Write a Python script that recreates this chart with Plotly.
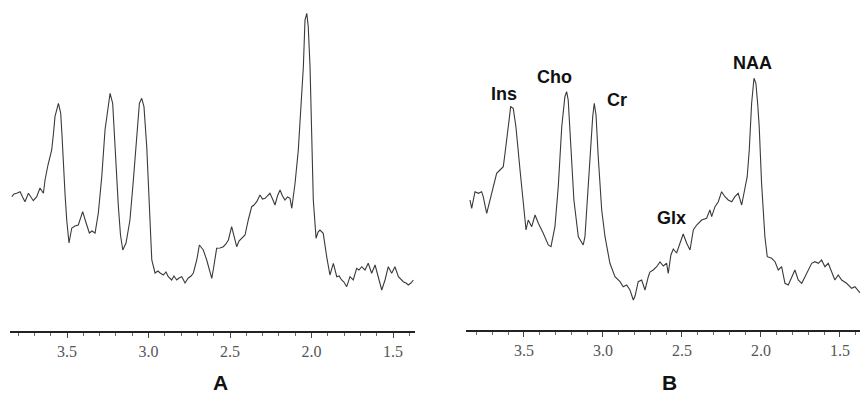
import plotly.graph_objects as go

# ---- Panel A spectrum (ppm, intensity a.u.) ----
ppm_a = [3.839, 3.825, 3.809, 3.788, 3.773, 3.758, 3.737, 3.721, 3.707, 3.686, 3.666, 3.645, 3.635,
         3.617, 3.604, 3.594, 3.583, 3.574, 3.553, 3.539, 3.531, 3.523, 3.512, 3.502, 3.488, 3.471,
         3.451, 3.431, 3.404, 3.383, 3.363, 3.347, 3.328, 3.308, 3.287, 3.267, 3.247, 3.236, 3.220,
         3.206, 3.185, 3.172, 3.158, 3.138, 3.114, 3.093, 3.072, 3.056, 3.042, 3.028, 3.011, 2.995,
         2.980, 2.960, 2.942, 2.929, 2.909, 2.893, 2.879, 2.858, 2.844, 2.827, 2.813, 2.796, 2.785,
         2.776, 2.756, 2.739, 2.725, 2.704, 2.688, 2.675, 2.664, 2.643, 2.623, 2.612, 2.601, 2.592,
         2.582, 2.561, 2.541, 2.525, 2.510, 2.490, 2.475, 2.459, 2.445, 2.428, 2.408, 2.388, 2.367,
         2.353, 2.336, 2.316, 2.301, 2.285, 2.270, 2.255, 2.239, 2.224, 2.209, 2.193, 2.178, 2.163,
         2.147, 2.132, 2.121, 2.101, 2.081, 2.071, 2.060, 2.050, 2.040, 2.029, 2.020, 2.009, 1.999,
         1.989, 1.972, 1.960, 1.948, 1.928, 1.907, 1.887, 1.866, 1.845, 1.831, 1.815, 1.801, 1.784,
         1.764, 1.744, 1.723, 1.709, 1.692, 1.672, 1.652, 1.631, 1.610, 1.590, 1.569, 1.549, 1.529,
         1.508, 1.488, 1.467, 1.451, 1.437, 1.420, 1.406, 1.390, 1.375]
int_a = [134.3, 137, 137.7, 139.3, 134, 129.3, 137.7, 133, 130.3, 134.3, 143, 137.7, 151,
         166, 174.3, 181, 198, 214.3, 227.7, 218, 196, 168, 136, 111, 88, 103,
         105, 106, 119.3, 108, 98, 100, 98, 118, 154.3, 201, 227.7, 237.7, 227.7,
         184.3, 124.3, 96, 81, 88, 111, 151, 198, 227.7, 232.7, 224.3, 184.3, 118,
         71, 58, 60, 58, 56, 59, 54.3, 51, 55, 51, 53, 54.3, 50,
         48, 53, 55, 58, 71, 86, 83, 81, 71, 58, 52.7, 63, 74.3,
         82.7, 83, 84.3, 87, 91, 104.3, 93, 84.3, 90, 92.7, 96, 111, 124.3,
         126, 129.3, 136, 132, 132.7, 135, 137.7, 132, 126, 135, 141, 135, 131,
         134, 132.7, 122.7, 147.7, 181, 206, 231, 264.3, 311, 317.7, 304.3, 264.3, 197.7,
         131, 92.7, 99, 101, 97.7, 74.3, 56, 67.7, 54.3, 55, 51, 49, 44.3,
         54.3, 51, 62.7, 61, 64.3, 61, 67.7, 57.7, 66, 54.3, 41, 51, 64.3,
         57.7, 64.3, 54.3, 52, 49.3, 48, 46, 48, 51]

# ---- Panel B spectrum ----
ppm_b = [3.842, 3.831, 3.810, 3.789, 3.768, 3.758, 3.736, 3.715, 3.694, 3.673, 3.652, 3.631, 3.620,
         3.599, 3.584, 3.568, 3.551, 3.525, 3.504, 3.487, 3.473, 3.451, 3.430, 3.409, 3.378, 3.346,
         3.329, 3.304, 3.283, 3.261, 3.241, 3.230, 3.220, 3.204, 3.184, 3.156, 3.125, 3.114, 3.099,
         3.082, 3.065, 3.055, 3.044, 3.030, 3.008, 2.987, 2.956, 2.924, 2.892, 2.872, 2.850, 2.829,
         2.808, 2.797, 2.777, 2.755, 2.734, 2.713, 2.703, 2.682, 2.660, 2.639, 2.618, 2.597, 2.587,
         2.570, 2.555, 2.534, 2.513, 2.492, 2.470, 2.449, 2.428, 2.407, 2.375, 2.344, 2.323, 2.312,
         2.291, 2.270, 2.249, 2.228, 2.207, 2.185, 2.165, 2.144, 2.122, 2.101, 2.087, 2.074, 2.059,
         2.044, 2.032, 2.021, 2.011, 1.996, 1.975, 1.960, 1.932, 1.911, 1.890, 1.869, 1.848, 1.827,
         1.806, 1.785, 1.764, 1.742, 1.721, 1.701, 1.679, 1.658, 1.637, 1.616, 1.595, 1.574, 1.553,
         1.532, 1.511, 1.489, 1.458, 1.426, 1.405, 1.384, 1.373]
int_b = [130, 121.7, 138.3, 136.7, 138.3, 133.3, 116.7, 130, 143.3, 156.7, 160, 163.3, 176.7,
         203.3, 223.3, 221.7, 203.3, 160, 123.3, 100, 110, 103.3, 115, 106.7, 96.7, 85,
         83.3, 103.3, 143.3, 203.3, 233.3, 238.3, 230, 186.7, 130, 93.3, 85, 93.3, 130,
         176.7, 213.3, 226.7, 215, 173.3, 120, 93.3, 66.7, 53.3, 48.3, 43.3, 45, 40,
         30, 34, 48.3, 50, 40, 53.3, 58, 60, 63.3, 68, 64, 66.7, 56.7,
         75, 81, 77, 86.7, 96, 86.7, 80, 100, 105, 110, 111.7, 120, 113.3,
         123.3, 128.3, 138.3, 133.3, 130, 128.3, 133.3, 136.7, 125, 140, 153.3, 180, 226.7,
         251.7, 246.7, 226.7, 203.3, 146.7, 93.3, 73.3, 71.7, 68.3, 60, 63.3, 46.7, 45,
         53.3, 60, 50, 46.7, 53.3, 60, 66.7, 68.3, 66.7, 70, 63.3, 66.7, 58.3,
         50, 55, 50, 46.7, 41.7, 43.3, 38.3, 37]

# ---- peak labels (panel B) ----
peak_names = ["Ins", "Cho", "Cr", "Glx", "NAA"]
peak_ppm = [3.627, 3.304, 2.913, 2.565, 2.053]
peak_int = [235.7, 253.3, 230, 111.7, 266.7]

tick_vals = [3.5, 3.0, 2.5, 2.0, 1.5]
tick_text = ["3.5", "3.0", "2.5", "2.0", "1.5"]
panel_names = ["A", "B"]

line_col = "#3a3a3a"
fig = go.Figure()
fig.add_trace(go.Scatter(x=ppm_a, y=int_a, mode="lines", line=dict(color=line_col, width=1.1),
                         xaxis="x", yaxis="y", showlegend=False, hoverinfo="skip"))
fig.add_trace(go.Scatter(x=ppm_b, y=int_b, mode="lines", line=dict(color=line_col, width=1.1),
                         xaxis="x2", yaxis="y2", showlegend=False, hoverinfo="skip"))

def xax(domain, rng, anchor):
    return dict(domain=domain, range=rng, anchor=anchor, showline=True, linecolor="#222",
                linewidth=1.5, ticks="outside", ticklen=5, tickwidth=1, tickcolor="#444",
                tickmode="array", tickvals=tick_vals, ticktext=tick_text,
                tickfont=dict(family="Liberation Serif", size=16, color="#555"),
                minor=dict(dtick=0.1, tick0=0, ticks="outside", ticklen=3, tickcolor="#666", tickwidth=1),
                showgrid=False, zeroline=False, fixedrange=True)

fig.update_layout(
    width=860, height=395, margin=dict(l=0, r=0, t=0, b=0),
    paper_bgcolor="white", plot_bgcolor="white",
    xaxis=xax([10/860, 415/860], [3.85, 1.365], "y"),
    yaxis=dict(domain=[64/395, 392/395], range=[0, 328], visible=False, fixedrange=True),
    xaxis2=xax([466/860, 1.0], [3.867, 1.373], "y2"),
    yaxis2=dict(domain=[65/395, 392/395], range=[0, 327], visible=False, fixedrange=True),
)

for name, px_, py_ in zip(peak_names, peak_ppm, peak_int):
    fig.add_annotation(x=px_, y=py_, xref="x2", yref="y2", text="<b>%s</b>" % name, showarrow=False,
                       font=dict(family="Liberation Sans", size=18, color="#111"),
                       xanchor="center", yanchor="middle")

for name, xp in zip(panel_names, [220/860, 669/860]):
    fig.add_annotation(x=xp, y=0, xref="paper", yref="paper", text="<b>%s</b>" % name,
                       showarrow=False, font=dict(family="Liberation Sans", size=21, color="#111"),
                       xanchor="center", yanchor="bottom", borderpad=0)

fig.write_html("out.html", config={"displayModeBar": False},
               post_script="document.body.style.margin='0';document.body.style.overflow='hidden';")
